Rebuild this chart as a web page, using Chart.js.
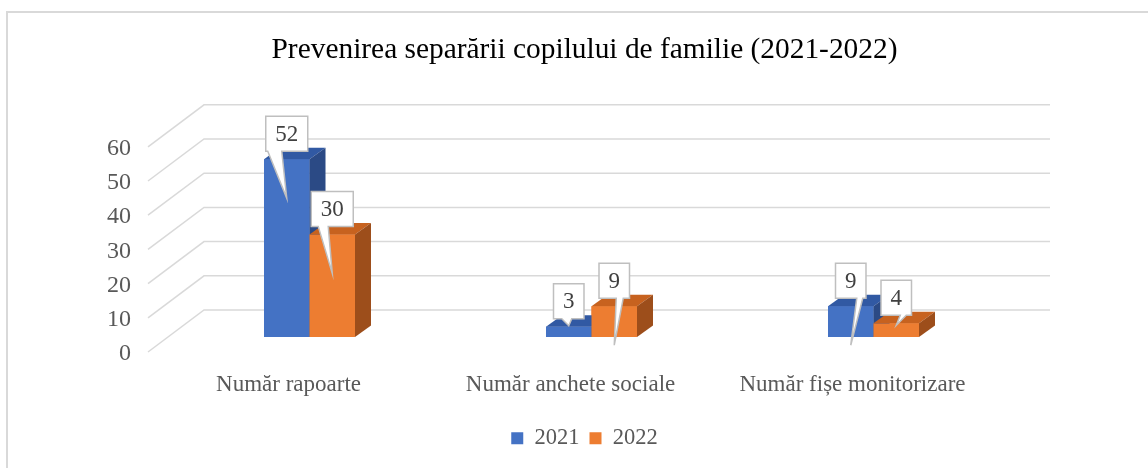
<!DOCTYPE html>
<html>
<head>
<meta charset="utf-8">
<title>Prevenirea separării copilului de familie (2021-2022)</title>
<script src="https://cdn.jsdelivr.net/npm/chart.js@4.4.1/dist/chart.umd.min.js"></script>
<style>
  html, body { margin: 0; padding: 0; background: #ffffff; }
  #wrap { width: 1148px; height: 468px; }
</style>
</head>
<body>
<div id="wrap"><canvas id="myChart" width="1148" height="468"></canvas></div>
<script>
// chart data
var categories = ['Număr rapoarte', 'Număr anchete sociale', 'Număr fișe monitorizare'];
var values2021 = [52, 3, 9];
var values2022 = [30, 9, 4];
var seriesNames = ['2021', '2022'];
var yTicks = [0, 10, 20, 30, 40, 50, 60];

var SERIF = '"Liberation Serif", "Times New Roman", serif';

// 3D look: depth of the floor and of each bar (pixels)
var floorFront = { dx: -20.5, dy: 15 };   // from bar plane to front edge of the floor
var floorBack = { dx: 35.5, dy: -27 };    // from bar plane to back wall
var barDepth = { dx: 16, dy: -11.5 };

var faceColors = [
    { front: '#4472C4', top: '#3159a3', side: '#2b4a85' },
    { front: '#ED7D31', top: '#c7621f', side: '#9d4e1b' }
];

var borderPlugin = {
    id: 'pageBorder',
    beforeDraw: function(chart) {
        var ctx = chart.ctx;
        ctx.save();
        ctx.fillStyle = '#ffffff';
        ctx.fillRect(0, 0, chart.width, chart.height);
        ctx.strokeStyle = '#d9d9d9';
        ctx.lineWidth = 2;
        ctx.beginPath();
        ctx.moveTo(7, chart.height);
        ctx.lineTo(7, 12);
        ctx.lineTo(chart.width, 12);
        ctx.stroke();
        ctx.restore();
    }
};

// back wall + side wall grid lines with their labels, then the bar boxes
var wallPlugin = {
    id: 'wall3d',
    beforeDatasetsDraw: function(chart) {
        var ctx = chart.ctx;
        var yScale = chart.scales.y;
        var area = chart.chartArea;
        ctx.save();
        ctx.strokeStyle = '#d9d9d9';
        ctx.lineWidth = 1.5;
        ctx.fillStyle = '#595959';
        ctx.font = '24px ' + SERIF;
        ctx.textAlign = 'right';
        ctx.textBaseline = 'middle';
        yScale.ticks.forEach(function(t) {
            var yp = yScale.getPixelForValue(t.value);
            ctx.beginPath();
            ctx.moveTo(area.left + floorFront.dx, yp + floorFront.dy);
            ctx.lineTo(area.left + floorBack.dx, yp + floorBack.dy);
            ctx.lineTo(area.right + floorBack.dx, yp + floorBack.dy);
            ctx.stroke();
            ctx.fillText(String(t.value), area.left - 37.5, yp + 17);
        });
        ctx.restore();
    },
    afterDatasetsDraw: function(chart) {
        var ctx = chart.ctx;
        ctx.save();
        // category by category, series left to right so nearer faces cover the others
        categories.forEach(function(c, i) {
            chart.data.datasets.forEach(function(ds, di) {
                var bar = chart.getDatasetMeta(di).data[i];
                var cols = faceColors[di];
                var p = bar.getProps(['x', 'y', 'base', 'width'], true);
                var l = p.x - p.width / 2, r = p.x + p.width / 2;
                ctx.fillStyle = cols.front;
                ctx.fillRect(l, p.y, r - l, p.base - p.y);
                ctx.fillStyle = cols.top;
                ctx.beginPath();
                ctx.moveTo(l, p.y);
                ctx.lineTo(r, p.y);
                ctx.lineTo(r + barDepth.dx, p.y + barDepth.dy);
                ctx.lineTo(l + barDepth.dx, p.y + barDepth.dy);
                ctx.closePath();
                ctx.fill();
                ctx.fillStyle = cols.side;
                ctx.beginPath();
                ctx.moveTo(r, p.y);
                ctx.lineTo(r + barDepth.dx, p.y + barDepth.dy);
                ctx.lineTo(r + barDepth.dx, p.base + barDepth.dy);
                ctx.lineTo(r, p.base);
                ctx.closePath();
                ctx.fill();
            });
        });
        ctx.restore();
    }
};

// white callout labels with a pointer
var calloutPlugin = {
    id: 'callouts',
    afterDraw: function(chart) {
        var ctx = chart.ctx;
        ctx.save();
        ctx.font = '23px ' + SERIF;
        ctx.textAlign = 'center';
        ctx.textBaseline = 'middle';
        chart.data.datasets.forEach(function(ds, di) {
            var meta = chart.getDatasetMeta(di);
            meta.data.forEach(function(bar, i) {
                var p = bar.getProps(['x', 'y'], true);
                var txt = String(ds.data[i]);
                var w = ctx.measureText(txt).width + 19;
                var h = 35;
                var bottom = p.y - 8;
                var top = bottom - h;
                var left = p.x - w / 2, right = p.x + w / 2;
                var tb = ds.calloutBase[i];
                var tip = ds.calloutDrop[i];
                ctx.beginPath();
                ctx.moveTo(left, top);
                ctx.lineTo(right, top);
                ctx.lineTo(right, bottom);
                ctx.lineTo(p.x + tb[1], bottom);
                ctx.lineTo(p.x, p.y + tip);
                ctx.lineTo(p.x + tb[0], bottom);
                ctx.lineTo(left, bottom);
                ctx.closePath();
                ctx.fillStyle = '#ffffff';
                ctx.fill();
                ctx.strokeStyle = '#bfbfbf';
                ctx.lineWidth = 1.5;
                ctx.stroke();
                ctx.fillStyle = '#404040';
                ctx.fillText(txt, p.x, top + h / 2 + 1);
            });
        });
        ctx.restore();
    }
};

var ctx = document.getElementById('myChart').getContext('2d');
var myChart = new Chart(ctx, {
    type: 'bar',
    data: {
        labels: categories,
        datasets: [{
            label: seriesNames[0],
            data: values2021,
            backgroundColor: faceColors[0].front,
            borderWidth: 0,
            calloutBase: [[-19, -5], [-7, 3], [6, 12]],
            calloutDrop: [39, -1, 39]
        }, {
            label: seriesNames[1],
            data: values2022,
            backgroundColor: faceColors[1].front,
            borderWidth: 0,
            calloutBase: [[-14, -4], [2, 9], [4, 10]],
            calloutDrop: [39, 39, 2]
        }]
    },
    options: {
        responsive: false,
        animation: false,
        devicePixelRatio: 1,
        datasets: {
            bar: { categoryPercentage: 0.3227, barPercentage: 1 }
        },
        layout: {
            padding: { left: 154.5, right: 133.5, top: 0, bottom: 8.5 }
        },
        scales: {
            x: {
                grid: { display: false, drawTicks: false },
                border: { display: false },
                ticks: {
                    color: '#595959',
                    font: { family: SERIF, size: 23 },
                    padding: 34,
                    labelOffset: -21,
                    maxRotation: 0,
                    autoSkip: false
                },
                afterFit: function(scale) { scale.height = 80; }
            },
            y: {
                min: 0,
                max: 60,
                afterBuildTicks: function(scale) {
                    scale.ticks = yTicks.map(function(v) { return { value: v }; });
                },
                grid: { display: false, drawTicks: false },
                border: { display: false },
                ticks: { display: false },
                afterFit: function(scale) { scale.width = 14; }
            }
        },
        plugins: {
            title: {
                display: true,
                text: 'Prevenirea separării copilului de familie (2021-2022)',
                color: '#000000',
                font: { family: SERIF, size: 29.4, weight: 'normal' },
                padding: { top: 32.4, bottom: 64.1 }
            },
            legend: {
                display: true,
                position: 'bottom',
                labels: {
                    color: '#595959',
                    font: { family: SERIF, size: 22.5 },
                    boxWidth: 12,
                    boxHeight: 12,
                    padding: 10
                }
            },
            tooltip: { enabled: false }
        }
    },
    plugins: [borderPlugin, wallPlugin, calloutPlugin]
});
</script>
</body>
</html>
